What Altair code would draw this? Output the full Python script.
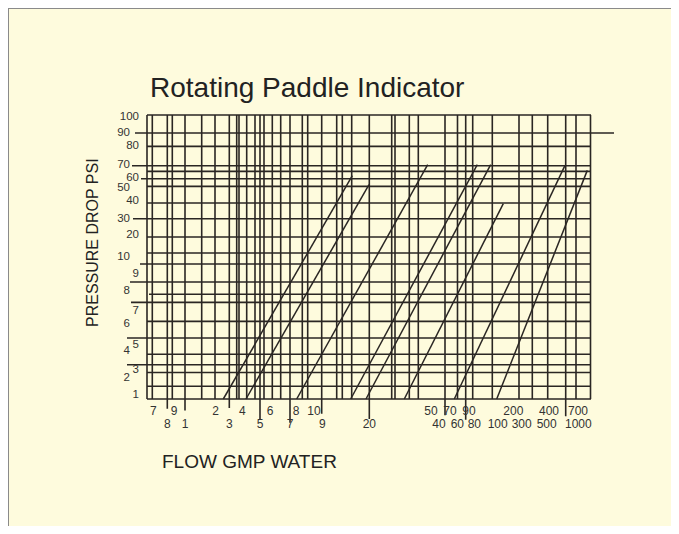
import altair as alt
import pandas as pd

BG = "#FEFBDD"
INK = "#2a2623"
TXT = "#333333"
FONT = "Liberation Sans"

# Chart grid units: x from left grid edge, y up from bottom grid edge
GRID_W = 444
GRID_H = 284

# vertical grid lines and how far each reaches below the grid (negative = tick below axis)
v_grid_x = [0, 5.3, 20.3, 25.3, 38, 54.7, 68, 82.3, 89.7, 92, 99.7, 108, 113, 117,
            125.3, 133.7, 143, 155.3, 160.7, 174.7, 189.7, 195.3, 204.7, 222.3,
            244.7, 248, 262.3, 271.3, 298, 310.5, 318.7, 325.7, 345.3, 372, 385.3,
            400.7, 418.7, 429, 443.5]
v_grid_bottom = [0, 0, -9.7, 0, -11.4, 0, 0, -9, 0, 0, 0, 0, -20.7, 0,
                 0, 0, -23.7, 0, 0, -14.7, 0, 0, 0, -20,
                 0, 0, 0, 0, -16.2, 0, -20.7, 0, 0, 0, 0,
                 0, -17.2, 0, 0]

# horizontal grid lines with their start / end
h_grid_y = [284, 266, 252.6, 233.3, 227.6, 220.3, 212.6, 196, 180.3, 162, 146, 135,
            117, 104.8, 96.6, 77.6, 61, 44.7, 34.3, 26.5, 12.8, 0]
h_grid_start = [0, -12, 0, -15, 0, -6, 0, 0, -14, 0, 0, -7,
                -17, 2, -16, 0, -20, 0, -20, 0, 0, 0]
h_grid_end = [444, 467, 444, 444, 444, 444, 444, 444, 444, 444, 444, 444,
              444, 444, 444, 444, 444, 444, 444, 444, 444, 444]

# indicator curves (straight diagonals) start on the bottom edge
diag_x0 = [76.3, 99, 149.7, 203.7, 219, 257.3, 307.3, 349.7]
diag_x1 = [205.3, 222, 280.7, 330.3, 343.7, 356.3, 418, 440.3]
diag_y1 = [223.3, 214.3, 234.3, 234.3, 234.3, 195.3, 233.6, 228.6]

# flow tick labels, two staggered rows
x_row1_text = ["7", "9", "2", "4", "6", "8", "10", "50", "70", "90", "200", "400", "700"]
x_row1_pos = [6.3, 27, 68.7, 95.3, 123, 149, 167, 284, 303, 322, 366.3, 402, 431]
x_row2_text = ["8", "1", "3", "5", "7", "9", "20", "40", "60", "80", "100", "300", "500", "1000"]
x_row2_pos = [20.3, 38, 82.3, 113, 143, 175.3, 222.3, 292, 310.3, 327.3, 350.7, 374.7, 399.7, 431.3]
X_ROW1_Y = -12.4
X_ROW2_Y = -25.4

# pressure tick labels, two staggered columns
y_colA_text = ["90", "70", "50", "30", "10", "8", "6", "4", "2"]
y_colA_pos = [266, 234, 211, 180.3, 141.8, 107.6, 75.3, 47.6, 21]
y_colB_text = ["100", "80", "60", "40", "20", "9", "7", "5", "3", "1"]
y_colB_pos = [282.3, 253.3, 221, 198.3, 164.3, 125.3, 87.6, 54.3, 28.6, 3.6]
Y_COLA_X = -17
Y_COLB_X = -8

xs = alt.Scale(domain=[0, GRID_W], nice=False, zero=False)
ys = alt.Scale(domain=[0, GRID_H], nice=False, zero=False)

vdf = pd.DataFrame({"x": v_grid_x, "y0": v_grid_bottom, "y1": [GRID_H] * len(v_grid_x)})
hdf = pd.DataFrame({"y": h_grid_y, "x0": h_grid_start, "x1": h_grid_end})
ddf = pd.DataFrame({"x0": diag_x0, "x1": diag_x1, "y0": [0] * len(diag_x0), "y1": diag_y1})
xl = pd.DataFrame({
    "x": x_row1_pos + x_row2_pos,
    "y": [X_ROW1_Y] * len(x_row1_pos) + [X_ROW2_Y] * len(x_row2_pos),
    "t": x_row1_text + x_row2_text,
})
yl = pd.DataFrame({
    "x": [Y_COLA_X] * len(y_colA_pos) + [Y_COLB_X] * len(y_colB_pos),
    "y": y_colA_pos + y_colB_pos,
    "t": y_colA_text + y_colB_text,
})

LW = 1.6

vlines = alt.Chart(vdf).mark_rule(color=INK, strokeWidth=LW).encode(
    x=alt.X("x:Q", scale=xs, axis=None),
    y=alt.Y("y0:Q", scale=ys, axis=None),
    y2="y1:Q",
)
hlines = alt.Chart(hdf).mark_rule(color=INK, strokeWidth=LW).encode(
    y=alt.Y("y:Q", scale=ys, axis=None),
    x=alt.X("x0:Q", scale=xs, axis=None),
    x2="x1:Q",
)
diags = alt.Chart(ddf).mark_rule(color=INK, strokeWidth=1.5).encode(
    x=alt.X("x0:Q", scale=xs, axis=None),
    x2="x1:Q",
    y=alt.Y("y0:Q", scale=ys, axis=None),
    y2="y1:Q",
)
xlabels = alt.Chart(xl).mark_text(font=FONT, fontSize=12, color=TXT, align="center",
                                  baseline="middle").encode(
    x=alt.X("x:Q", scale=xs, axis=None),
    y=alt.Y("y:Q", scale=ys, axis=None),
    text="t:N",
)
ylabels = alt.Chart(yl).mark_text(font=FONT, fontSize=11.5, color=TXT, align="right",
                                  baseline="middle").encode(
    x=alt.X("x:Q", scale=xs, axis=None),
    y=alt.Y("y:Q", scale=ys, axis=None),
    text="t:N",
)

titles = pd.DataFrame({"x": [3], "y": [310.3], "t": ["Rotating Paddle Indicator"]})
main_title = alt.Chart(titles).mark_text(font=FONT, fontSize=28, color="#222222",
                                         align="left", baseline="middle").encode(
    x=alt.X("x:Q", scale=xs, axis=None), y=alt.Y("y:Q", scale=ys, axis=None), text="t:N")

xt = pd.DataFrame({"x": [15], "y": [-62.7], "t": ["FLOW GMP WATER"]})
x_title = alt.Chart(xt).mark_text(font=FONT, fontSize=19, color="#222222",
                                  align="left", baseline="middle").encode(
    x=alt.X("x:Q", scale=xs, axis=None), y=alt.Y("y:Q", scale=ys, axis=None), text="t:N")

yt = pd.DataFrame({"x": [-54], "y": [156.3], "t": ["PRESSURE DROP PSI"]})
y_title = alt.Chart(yt).mark_text(font=FONT, fontSize=16, color="#222222", angle=270,
                                  align="center", baseline="middle").encode(
    x=alt.X("x:Q", scale=xs, axis=None), y=alt.Y("y:Q", scale=ys, axis=None), text="t:N")

frame_left = alt.Chart(pd.DataFrame({"a": [0]})).mark_rule(color="#8a8a8a", strokeWidth=1).encode(
    x=alt.value(-138.5), y=alt.value(-106.5), y2=alt.value(411))
frame_top = alt.Chart(pd.DataFrame({"a": [0]})).mark_rule(color="#8a8a8a", strokeWidth=1).encode(
    x=alt.value(-139), x2=alt.value(524), y=alt.value(-106.5))

chart = alt.layer(
    frame_left, frame_top, vlines, hlines, diags, xlabels, ylabels, main_title, x_title, y_title
).properties(
    width=GRID_W,
    height=GRID_H,
    autosize=alt.AutoSizeParams(type="none"),
    padding={"left": 139, "top": 107, "right": 80, "bottom": 127},
    background=BG,
).configure_view(stroke=None)

chart.save("out.html", embed_options={"renderer": "svg", "actions": False})
